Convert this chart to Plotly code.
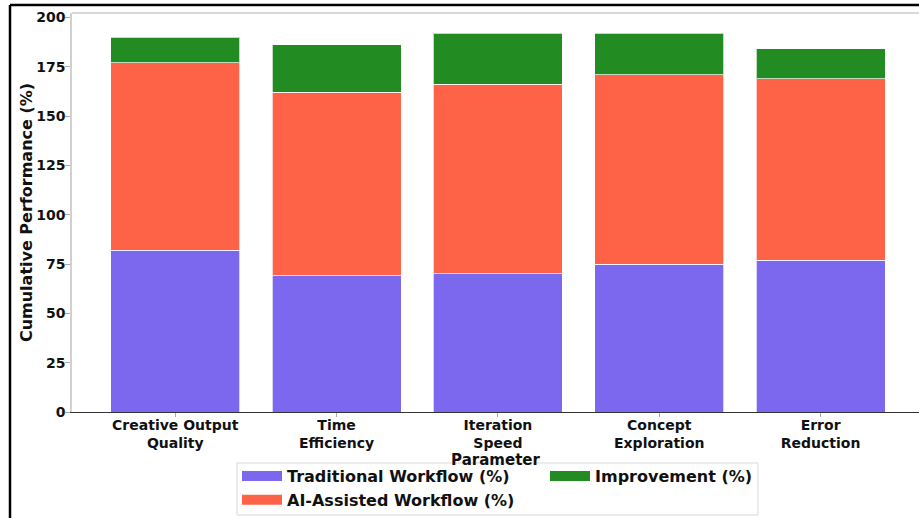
import plotly.graph_objects as go

categories = ["Creative Output<br>Quality", "Time<br>Efficiency", "Iteration<br>Speed",
              "Concept<br>Exploration", "Error<br>Reduction"]
traditional = [82, 69, 70, 75, 77]
ai_assisted = [95, 93, 96, 96, 92]
improvement = [13, 24, 26, 21, 15]
y_ticks = [0, 25, 50, 75, 100, 125, 150, 175, 200]

FONT = "DejaVu Sans"
W, H = 919, 518
L, R, T, B = 72, 0, 13, 106
PW = W - L - R
PH = H - T - B

def px_x(px):
    return (px - L) / PW

def px_y(py):
    return (H - B - py) / PH

fig = go.Figure()
series = [
    ("Traditional Workflow (%)", traditional, "#7B68EE", 1),
    ("AI-Assisted Workflow (%)", ai_assisted, "#FF6347", 3),
    ("Improvement (%)", improvement, "#228B22", 2),
]
for name, vals, color, rank in series:
    fig.add_trace(go.Bar(
        x=list(range(len(categories))), y=vals, name=name,
        marker=dict(color=color, line=dict(color="rgba(255,255,255,0.7)", width=1)),
        showlegend=False,
    ))
# legend swatches (wide rectangles like the reference legend)
for name, vals, color, rank in series:
    fig.add_trace(go.Scatter(
        x=[None], y=[None], mode="lines", name=name,
        line=dict(color=color, width=10), legendrank=rank, showlegend=True,
    ))

fig.update_layout(
    width=W, height=H,
    barmode="stack", bargap=0.2,
    margin=dict(l=L, r=R, t=T, b=B, autoexpand=False),
    paper_bgcolor="white", plot_bgcolor="white",
    font=dict(family=FONT, size=14, color="#111111", weight="bold"),
    showlegend=True,
    legend=dict(
        orientation="h", x=px_x(237), xanchor="left", y=px_y(459), yanchor="top",
        font=dict(family=FONT, size=16, color="#111111", weight="bold"),
        bordercolor="rgba(0,0,0,0)", borderwidth=0, bgcolor="rgba(0,0,0,0)",
        entrywidth=253, entrywidthmode="pixels", traceorder="normal",
        itemwidth=40, tracegroupgap=0,
    ),
    xaxis=dict(
        range=[-0.64, 4.61], automargin=False,
        tickmode="array", tickvals=list(range(len(categories))), ticktext=categories,
        ticks="outside", ticklen=4, tickcolor="#aaaaaa", ticklabelstandoff=-4,
        showline=True, linecolor="#333333", linewidth=1.2,
        showgrid=False, zeroline=False,
        tickfont=dict(family=FONT, size=14, color="#111111", weight="bold"),
        title=dict(text="Parameter", standoff=0,
                   font=dict(family=FONT, size=15, color="#111111", weight="bold")),
    ),
    yaxis=dict(
        range=[0, 202.2], automargin=False,
        tickmode="array", tickvals=y_ticks,
        ticks="outside", ticklen=5, tickcolor="#aaaaaa", ticklabelstandoff=-3,
        showline=True, linecolor="#d0d0d0", linewidth=1.5,
        showgrid=False, zeroline=False,
        tickfont=dict(family=FONT, size=14, color="#111111", weight="bold"),
        title=dict(text="Cumulative Performance (%)", standoff=0,
                   font=dict(family=FONT, size=16, color="#111111", weight="bold")),
    ),
    shapes=[
        dict(type="line", xref="paper", yref="paper", x0=0, x1=1, y0=1, y1=1,
             line=dict(color="#cccccc", width=1.5)),
        dict(type="line", xref="paper", yref="paper", x0=px_x(10), x1=1.01,
             y0=px_y(5), y1=px_y(5), line=dict(color="black", width=2.5)),
        dict(type="line", xref="paper", yref="paper", x0=px_x(10), x1=px_x(10),
             y0=px_y(5), y1=px_y(520), line=dict(color="black", width=2.5)),
        dict(type="rect", xref="paper", yref="paper", x0=px_x(237), x1=px_x(758),
             y0=px_y(515), y1=px_y(463), line=dict(color="#d9d9d9", width=1),
             layer="below"),
    ],
)

fig.write_html("out.html", config={"displayModeBar": False},
               post_script="document.body.style.margin='0px';document.body.style.overflow='hidden';")
